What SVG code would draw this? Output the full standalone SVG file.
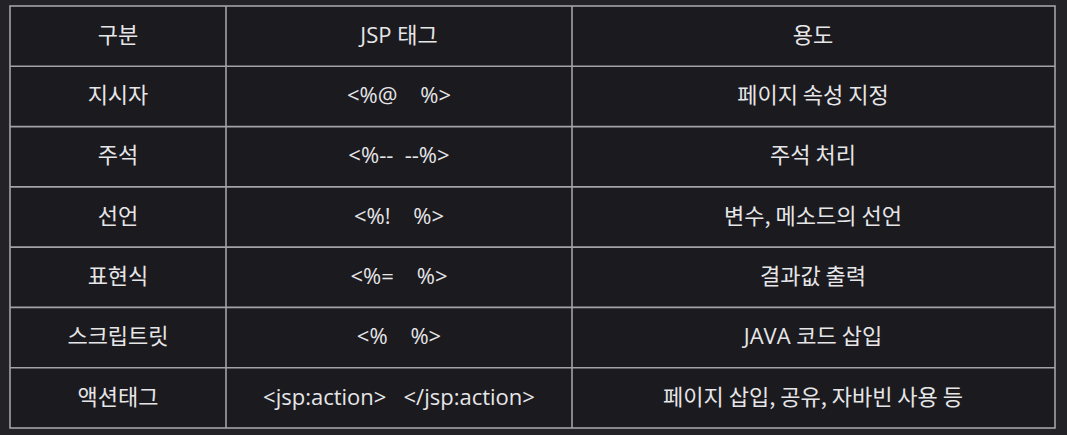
<svg xmlns="http://www.w3.org/2000/svg" width="1067" height="435" viewBox="0 0 1067 435">
<style>
.bg{fill:#232327}
.tbl{fill:#1b1a1f}
.ln{stroke:#a3a3a6;stroke-width:1.6;fill:none}
text{fill:#e6e6e8;font-family:"Open Sans","Noto Sans CJK KR",sans-serif;font-size:22px;text-anchor:middle}
.ko{font-family:"Noto Sans CJK KR",sans-serif;font-size:22px}
</style>
<rect class="bg" x="0" y="0" width="1067" height="435"/>
<rect class="tbl" x="10" y="6" width="1045" height="422"/>
<g id="connectors">
<rect class="ln" x="10" y="6" width="1045" height="422"/>
<line class="ln" x1="226" y1="6" x2="226" y2="428"/>
<line class="ln" x1="572" y1="6" x2="572" y2="428"/>
<line class="ln" x1="10" y1="66.3" x2="1055" y2="66.3"/>
<line class="ln" x1="10" y1="126.6" x2="1055" y2="126.6"/>
<line class="ln" x1="10" y1="186.9" x2="1055" y2="186.9"/>
<line class="ln" x1="10" y1="247.1" x2="1055" y2="247.1"/>
<line class="ln" x1="10" y1="307.4" x2="1055" y2="307.4"/>
<line class="ln" x1="10" y1="367.7" x2="1055" y2="367.7"/>
</g>
<g id="header">
<text class="ko" x="118" y="42.5">구분</text>
<text x="399" y="42.5">JSP <tspan class="ko">태그</tspan></text>
<text class="ko" x="813" y="42.5">용도</text>
</g>
<g id="row-directive">
<text class="ko" x="118" y="103">지시자</text>
<text x="399" y="103" xml:space="preserve">&lt;%@    %&gt;</text>
<text class="ko" x="813" y="103">페이지 속성 지정</text>
</g>
<g id="row-comment">
<text class="ko" x="118" y="163">주석</text>
<text x="399" y="163" xml:space="preserve">&lt;%--  --%&gt;</text>
<text class="ko" x="813" y="163">주석 처리</text>
</g>
<g id="row-declaration">
<text class="ko" x="118" y="223.5">선언</text>
<text x="399" y="223.5" xml:space="preserve">&lt;%!    %&gt;</text>
<text class="ko" x="813" y="223.5">변수, 메소드의 선언</text>
</g>
<g id="row-expression">
<text class="ko" x="118" y="284">표현식</text>
<text x="399" y="284" xml:space="preserve">&lt;%=    %&gt;</text>
<text class="ko" x="813" y="284">결과값 출력</text>
</g>
<g id="row-scriptlet">
<text class="ko" x="118" y="344">스크립트릿</text>
<text x="399" y="344" xml:space="preserve">&lt;%    %&gt;</text>
<text x="813" y="344">JAVA <tspan class="ko">코드 삽입</tspan></text>
</g>
<g id="row-action">
<text class="ko" x="118" y="404.5">액션태그</text>
<text x="399" y="404.5" xml:space="preserve">&lt;jsp:action&gt;   &lt;/jsp:action&gt;</text>
<text class="ko" x="813" y="404.5">페이지 삽입, 공유, 자바빈 사용 등</text>
</g>
</svg>
